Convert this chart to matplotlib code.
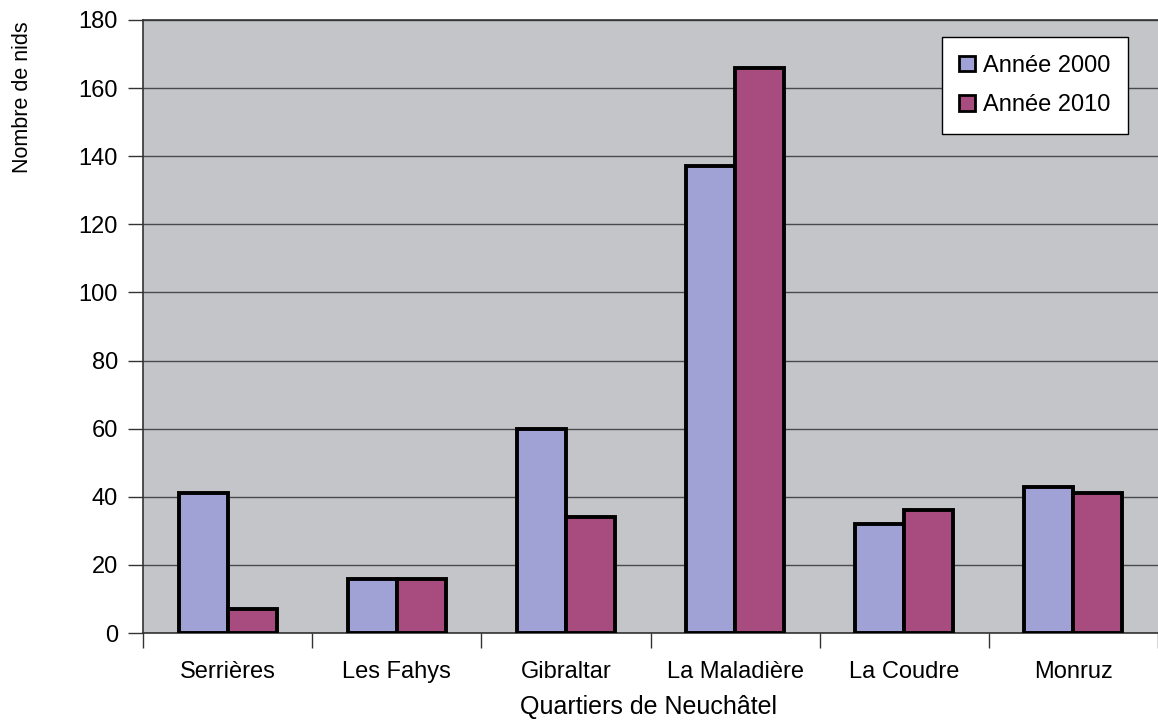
import matplotlib
matplotlib.use('Agg')
import matplotlib.pyplot as plt
import numpy as np

plt.rcParams['font.family'] = ['Liberation Sans', 'DejaVu Sans']

quartiers = ['Serrières', 'Les Fahys', 'Gibraltar', 'La Maladière', 'La Coudre', 'Monruz']
nids_2000 = [41, 16, 60, 137, 32, 43]
nids_2010 = [7, 16, 34, 166, 36, 41]
yticks = [0, 20, 40, 60, 80, 100, 120, 140, 160, 180]

fs = 17

fig = plt.figure(figsize=(11.58, 7.2), dpi=100)
ax = fig.add_axes([143/1158, 87/720, 1 - 143/1158, 613/720])
ax.set_facecolor('#c3c5c9')

x = np.arange(len(quartiers))
w = 0.29
ax.bar(x - w/2, nids_2000, w, color='#a0a2d6', edgecolor='black', linewidth=2.8, label='Année 2000', zorder=3)
ax.bar(x + w/2, nids_2010, w, color='#a84c7f', edgecolor='black', linewidth=2.8, label='Année 2010', zorder=3)

ax.set_xlim(-0.5, len(quartiers) - 0.5)
ax.set_ylim(0, 180)
ax.set_yticks(yticks)
ax.yaxis.grid(True, color='#4a4a4a', linewidth=1.0, zorder=0)
ax.tick_params(axis='y', labelsize=fs, length=11, width=1, color='#333333', pad=7)

ax.set_xticks(np.arange(len(quartiers) + 1) - 0.5)
ax.set_xticklabels([])
ax.set_xticks(x, minor=True)
ax.set_xticklabels(quartiers, minor=True, fontsize=fs)
ax.tick_params(axis='x', which='major', length=11, width=1, color='#333333')
ax.tick_params(axis='x', which='minor', length=0, pad=20)

for s in ['left', 'bottom', 'top']:
    ax.spines[s].set_color('#333333')
    ax.spines[s].set_linewidth(1.2)
ax.spines['right'].set_visible(False)

fig.text(649/1158, 1 - 707/720, 'Quartiers de Neuchâtel', ha='center', va='center', fontsize=18)
fig.text(23/1158, 1 - 97/720, 'Nombre de nids', ha='center', va='center', rotation=90, fontsize=15.5)

leg = ax.legend(loc='upper right', bbox_to_anchor=(1128/1158, 1 - 37/720),
                bbox_transform=fig.transFigure, fontsize=fs, frameon=True, fancybox=False,
                handlelength=0.65, handleheight=0.65, handletextpad=0.35, borderpad=0.75,
                labelspacing=0.75, borderaxespad=0)
leg.get_frame().set_edgecolor('black')
leg.get_frame().set_linewidth(1.0)
leg.get_frame().set_alpha(1)
for h in leg.legend_handles:
    h.set_linewidth(2)

fig.savefig('out.png', dpi=100)
